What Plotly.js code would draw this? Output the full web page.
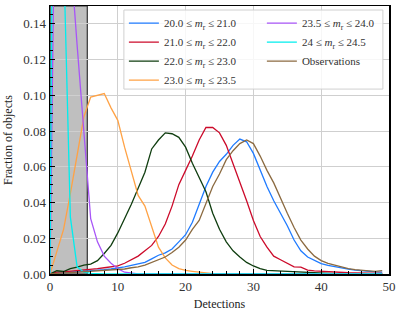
<!DOCTYPE html>
<html>
<head>
<meta charset="utf-8">
<script src="https://cdn.plot.ly/plotly-3.0.1.min.js"></script>
<style>html,body{margin:0;padding:0;background:#fff}#chart{width:399px;height:311px}</style>
</head>
<body>
<div id="chart"></div>
<script>
var detections = [];
for (var i = 0; i < 50; i++) detections.push(i);

var seriesNames = [
  "20.0 ≤ <i>m</i><sub>r</sub> ≤ 21.0",
  "21.0 ≤ <i>m</i><sub>r</sub> ≤ 22.0",
  "22.0 ≤ <i>m</i><sub>r</sub> ≤ 23.0",
  "23.0 ≤ <i>m</i><sub>r</sub> ≤ 23.5",
  "23.5 ≤ <i>m</i><sub>r</sub> ≤ 24.0",
  "24 ≤ <i>m</i><sub>r</sub> ≤ 24.5",
  "Observations"
];

var mag20_21 = [0, 0.0005, 0.0008, 0.001, 0.0012, 0.0015, 0.0018, 0.002, 0.0024, 0.0028,
  0.0032, 0.004, 0.0048, 0.0055, 0.0065, 0.0085, 0.0105, 0.0118, 0.014, 0.018,
  0.022, 0.029, 0.039, 0.049, 0.057, 0.063, 0.067, 0.072, 0.0755, 0.074,
  0.0675, 0.058, 0.049, 0.041, 0.034, 0.027, 0.019, 0.013, 0.0095, 0.0075,
  0.0058, 0.0048, 0.004, 0.0032, 0.0027, 0.0022, 0.0018, 0.0015, 0.0012, 0.0011];

var mag21_22 = [0, 0.001, 0.0012, 0.0015, 0.002, 0.0025, 0.0028, 0.003, 0.0035, 0.004,
  0.0045, 0.006, 0.008, 0.010, 0.013, 0.016, 0.021, 0.028, 0.038, 0.050,
  0.058, 0.066, 0.075, 0.082, 0.082, 0.079, 0.072, 0.062, 0.051, 0.041,
  0.030, 0.021, 0.015, 0.010, 0.008, 0.006, 0.004, 0.0038, 0.0022, 0.0018,
  0.0015, 0.0012, 0.001, 0.0008, 0.0007, 0.0006, 0.0005, 0.0004, 0.0004, 0.0003];

var mag22_23 = [0, 0.0018, 0.0014, 0.003, 0.0038, 0.005, 0.0055, 0.0075, 0.0115, 0.016,
  0.023, 0.031, 0.039, 0.048, 0.057, 0.070, 0.075, 0.079, 0.0785, 0.0765,
  0.071, 0.062, 0.054, 0.046, 0.034, 0.025, 0.018, 0.013, 0.0095, 0.0065,
  0.0045, 0.003, 0.002, 0.0018, 0.0016, 0.0013, 0.001, 0.0008, 0.0006, 0.0005,
  0.0004, 0.0003, 0.0002, 0.0002, 0.0001, 0.0001, 0, 0, 0, 0];

var mag23_235 = [0, 0.012, 0.025, 0.045, 0.067, 0.088, 0.099, 0.100, 0.101, 0.093,
  0.086, 0.071, 0.058, 0.044, 0.038, 0.026, 0.015, 0.009, 0.005, 0.003,
  0.002, 0.0015, 0.001, 0.0005, 0.0002, 0, 0, 0, 0, 0,
  0, 0, 0, 0, 0, 0, 0, 0, 0, 0,
  0, 0, 0, 0, 0, 0, 0, 0, 0, 0];

var mag235_24 = [0, 0.30, 0.24, 0.18, 0.128, 0.078, 0.031, 0.018, 0.010, 0.006,
  0.003, 0.001, 0.0003, 0, 0, 0, 0, 0, 0, 0,
  0, 0, 0, 0, 0, 0, 0, 0, 0, 0,
  0, 0, 0, 0, 0, 0, 0, 0, 0, 0,
  0, 0, 0, 0, 0, 0, 0, 0, 0, 0];

var mag24_245 = [0, 0.60, 0.18, 0.032, 0.004, 0.001, 0.0003, 0, 0, 0,
  0, 0, 0, 0, 0, 0, 0, 0, 0, 0,
  0, 0, 0, 0, 0, 0, 0, 0, 0, 0,
  0, 0, 0, 0, 0, 0, 0, 0, 0, 0,
  0, 0, 0, 0, 0, 0, 0, 0, 0, 0];

var observations = [0, 0.0005, 0.0006, 0.0008, 0.001, 0.0012, 0.0014, 0.0016, 0.0018, 0.002,
  0.0022, 0.0028, 0.0035, 0.004, 0.005, 0.0065, 0.008, 0.0095, 0.012, 0.015,
  0.019, 0.025, 0.030, 0.040, 0.049, 0.056, 0.064, 0.069, 0.073, 0.075,
  0.073, 0.066, 0.058, 0.051, 0.042, 0.034, 0.026, 0.019, 0.014, 0.010,
  0.0075, 0.006, 0.005, 0.004, 0.003, 0.0025, 0.002, 0.0018, 0.0015, 0.0019];

var seriesValues = [mag20_21, mag21_22, mag22_23, mag23_235, mag235_24, mag24_245, observations];
var colors = ["#1f7bff", "#cc0a2a", "#0f3d0f", "#ffa245", "#a855f7", "#00eeee", "#8b6a40"];
var legendGroups = ["legend", "legend", "legend", "legend", "legend2", "legend2", "legend2"];

var traces = seriesValues.map(function (vals, k) {
  return {
    x: detections, y: vals, type: "scatter", mode: "lines",
    name: seriesNames[k], line: {color: colors[k], width: 1.3},
    legend: legendGroups[k]
  };
});

var font = "Liberation Serif, DejaVu Serif, serif";
var legendBase = {
  orientation: "v", xanchor: "left", yanchor: "top", y: 0.99,
  bgcolor: "rgba(0,0,0,0)", borderwidth: 0,
  font: {family: font, size: 11, color: "#333"},
  tracegroupgap: 0, itemwidth: 30
};
var layout = {
  width: 399, height: 311,
  margin: {l: 50, r: 10, t: 6, b: 37},
  paper_bgcolor: "#fff", plot_bgcolor: "#fff",
  font: {family: font, size: 12, color: "#222"},
  showlegend: true,
  legend: Object.assign({}, legendBase, {x: 0.218}),
  legend2: Object.assign({}, legendBase, {x: 0.625}),
  xaxis: {
    range: [0, 50], tickvals: [0, 10, 20, 30, 40, 50],
    ticks: "inside", ticklen: 5, tickwidth: 1, tickcolor: "#000",
    minor: {dtick: 2, ticks: "inside", ticklen: 3, tickcolor: "#000", showgrid: false},
    showgrid: true, gridcolor: "#cfcfcf", gridwidth: 1,
    showline: true, linecolor: "#000", linewidth: 1.5, mirror: true,
    zeroline: false,
    title: {text: "Detections", font: {family: font, size: 12, color: "#222"}, standoff: 6},
    tickfont: {family: font, size: 13, color: "#333"}
  },
  yaxis: {
    range: [0, 0.15], dtick: 0.02, tickformat: ".2f",
    ticks: "inside", ticklen: 5, tickwidth: 1, tickcolor: "#000",
    minor: {dtick: 0.005, ticks: "inside", ticklen: 3, tickcolor: "#000", showgrid: false},
    showgrid: true, gridcolor: "#cfcfcf", gridwidth: 1,
    showline: true, linecolor: "#000", linewidth: 1.5, mirror: true,
    zeroline: false,
    title: {text: "Fraction of objects", font: {family: font, size: 12, color: "#222"}, standoff: 8},
    tickfont: {family: font, size: 13, color: "#333"}
  },
  shapes: [{
    type: "rect", xref: "x", yref: "y domain", x0: 0, x1: 5.5, y0: 0, y1: 1,
    fillcolor: "#bfbfbf", line: {color: "#333", width: 1.2}, layer: "below"
  }, {
    type: "rect", xref: "x domain", yref: "y domain", x0: 0.218, x1: 0.982, y0: 0.69, y1: 0.985,
    fillcolor: "rgba(255,255,255,0.82)", line: {color: "#d0d0d0", width: 1}, layer: "above"
  }]
};

Plotly.newPlot("chart", traces, layout, {displayModeBar: false, staticPlot: true});
</script>
</body>
</html>
